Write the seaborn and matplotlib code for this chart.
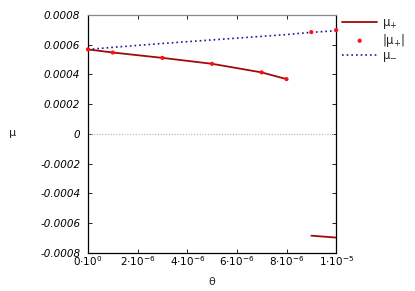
import matplotlib
matplotlib.use("Agg")
import matplotlib.pyplot as plt
import seaborn as sns
import numpy as np
import pandas as pd
from matplotlib.ticker import FixedLocator, FixedFormatter

# datos
theta_mu_plus_a = [0.0, 1e-6, 3e-6, 5e-6, 7e-6, 8e-6]
mu_plus_a = [0.000569, 0.000548, 0.000512, 0.000472, 0.000414, 0.000369]
theta_mu_plus_b = [9e-6, 1e-5]
mu_plus_b = [-0.000686, -0.000699]

theta_mu_minus = [0.0, 1e-6, 2e-6, 3e-6, 4e-6, 5e-6, 6e-6, 7e-6, 8e-6, 9e-6, 1e-5]
mu_minus = [0.000569, 0.000583, 0.000596, 0.000609, 0.000621, 0.000633,
            0.000645, 0.000657, 0.000669, 0.000684, 0.000695]

x_ticks = [0.0, 2e-6, 4e-6, 6e-6, 8e-6, 1e-5]
x_tick_labels = [r"$0{\cdot}10^{0}$", r"$2{\cdot}10^{-6}$", r"$4{\cdot}10^{-6}$",
                 r"$6{\cdot}10^{-6}$", r"$8{\cdot}10^{-6}$", r"$1{\cdot}10^{-5}$"]
y_ticks = [-0.0008, -0.0006, -0.0004, -0.0002, 0.0, 0.0002, 0.0004, 0.0006, 0.0008]
y_tick_labels = ["-0.0008", "-0.0006", "-0.0004", "-0.0002", "0",
                 "0.0002", "0.0004", "0.0006", "0.0008"]

sns.set_style("ticks")
plt.rcParams["font.family"] = ["DejaVu Sans"]
plt.rcParams["mathtext.default"] = "it"

df_a = pd.DataFrame({"theta": theta_mu_plus_a, "mu": mu_plus_a})
df_b = pd.DataFrame({"theta": theta_mu_plus_b, "mu": mu_plus_b})
df_abs = pd.DataFrame({"theta": theta_mu_plus_a + theta_mu_plus_b,
                       "mu": np.abs(mu_plus_a + mu_plus_b)})
df_minus = pd.DataFrame({"theta": theta_mu_minus, "mu": mu_minus})

fig = plt.figure(figsize=(4.15, 2.91), dpi=100)
ax = fig.add_axes([0.212, 0.132, 0.598, 0.816])

rojo_osc = "#a00a0a"
azul = "#1a1a9a"

ax.axhline(0, color="#b0b0b0", lw=0.8, ls=(0, (1, 1.5)), zorder=1)

sns.lineplot(data=df_a, x="theta", y="mu", ax=ax, color=rojo_osc, lw=1.3,
             label=r"$\mathrm{\mu}_{+}$", zorder=3)
sns.lineplot(data=df_b, x="theta", y="mu", ax=ax, color=rojo_osc, lw=1.3,
             legend=False, zorder=3)
sns.lineplot(data=df_minus, x="theta", y="mu", ax=ax, color=azul, lw=1.2,
             ls=(0, (1, 1.8)), label=r"$\mathrm{\mu}_{-}$", zorder=2)
sns.scatterplot(data=df_abs, x="theta", y="mu", ax=ax, color="#ff1010", s=9,
                edgecolor="none", label=r"$|\mathrm{\mu}_{+}|$", zorder=4, clip_on=False)

ax.set_xlim(0, 1e-5)
ax.set_ylim(-0.0008, 0.0008)

ax.xaxis.set_major_locator(FixedLocator(x_ticks))
ax.xaxis.set_major_formatter(FixedFormatter(x_tick_labels))
ax.yaxis.set_major_locator(FixedLocator(y_ticks))
ax.yaxis.set_major_formatter(FixedFormatter(y_tick_labels))
ax.tick_params(direction="in", length=3, width=0.6, top=True, right=True,
               labelsize=7.5, colors="black")
ax.tick_params(axis="y", pad=5.5)
ax.tick_params(axis="x", pad=1.5)
for lab in ax.get_yticklabels():
    lab.set_fontstyle("italic")

for side in ["left", "right", "bottom"]:
    ax.spines[side].set_color("black")
    ax.spines[side].set_linewidth(0.9)
ax.spines["top"].set_color("#888888")
ax.spines["top"].set_linewidth(0.9)

ax.set_xlabel(r"$\mathrm{\theta}$", fontsize=8, labelpad=5)
ax.set_ylabel(r"$\mathrm{\mu}$", fontsize=8, labelpad=20, rotation=0, va="center")

handles, labels = ax.get_legend_handles_labels()
orden = [labels.index(r"$\mathrm{\mu}_{+}$"), labels.index(r"$|\mathrm{\mu}_{+}|$"),
         labels.index(r"$\mathrm{\mu}_{-}$")]
ax.legend([handles[i] for i in orden], [labels[i] for i in orden],
          loc="upper left", bbox_to_anchor=(0.99, 1.03), frameon=False,
          fontsize=8.5, handlelength=3.0, handletextpad=0.4, labelspacing=0.05,
          borderaxespad=0.3)

fig.savefig("out.png", dpi=100)
plt.close()
